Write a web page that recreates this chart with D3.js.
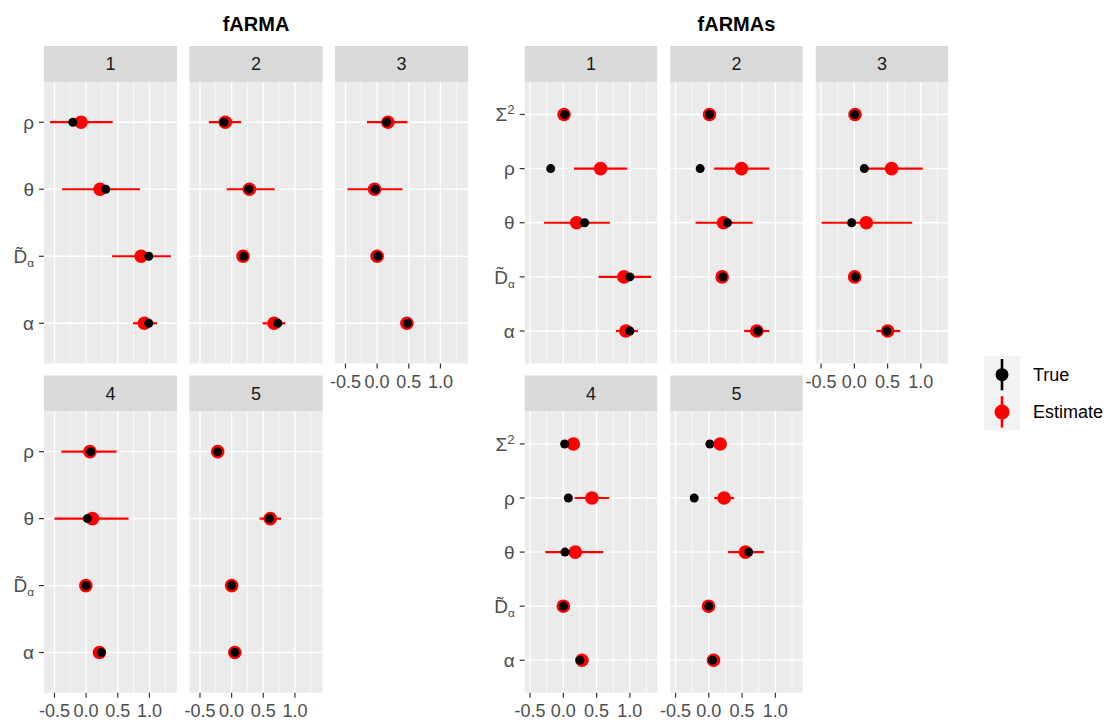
<!DOCTYPE html>
<html>
<head>
<meta charset="utf-8">
<script src="https://cdn.jsdelivr.net/npm/d3@7"></script>
<style>
  html, body { margin: 0; padding: 0; background: #fff; }
  svg { display: block; font-family: "Liberation Sans", Arial, Helvetica, sans-serif; }
</style>
</head>
<body>
<svg id="chart" width="1107" height="722"></svg>
<script>
// Parameters shown on the y axis, top to bottom
const paramsARMA  = ["rho", "theta", "Dalpha", "alpha"];
const paramsARMAs = ["Sigma2", "rho", "theta", "Dalpha", "alpha"];
const panelIds = ["1", "2", "3", "4", "5"];
const seriesNames = ["True", "Estimate"];
const xTickValues = [-0.5, 0.0, 0.5, 1.0];

// fARMA: one row per panel, values in the order of paramsARMA
const trueARMA = [
  [-0.21, 0.31, 0.99, 0.99],
  [-0.12, 0.27, 0.19, 0.73],
  [ 0.15, -0.03, 0.01, 0.48],
  [ 0.07, 0.02, 0.00, 0.24],
  [-0.22, 0.60, 0.00, 0.05]
];
const estARMA = [
  [-0.08, 0.22, 0.87, 0.92],
  [-0.10, 0.28, 0.18, 0.67],
  [ 0.17, -0.04, 0.00, 0.47],
  [ 0.06, 0.10, -0.005, 0.21],
  [-0.22, 0.61, 0.00, 0.05]
];
const lowARMA = [
  [-0.57, -0.38, 0.41, 0.74],
  [-0.36, -0.08, 0.14, 0.49],
  [-0.16, -0.47, -0.03, 0.43],
  [-0.39, -0.50, -0.04, 0.14],
  [-0.27, 0.44, -0.04, 0.01]
];
const highARMA = [
  [0.42, 0.85, 1.34, 1.12],
  [0.15, 0.68, 0.22, 0.85],
  [0.48, 0.40, 0.03, 0.51],
  [0.48, 0.67, 0.03, 0.28],
  [-0.17, 0.78, 0.04, 0.09]
];

// fARMAs: values in the order of paramsARMAs
const trueARMAs = [
  [0.02, -0.19, 0.32, 1.00, 1.00],
  [0.01, -0.13, 0.28, 0.21, 0.74],
  [0.005, 0.15, -0.04, 0.015, 0.49],
  [0.02, 0.075, 0.025, 0.00, 0.25],
  [0.015, -0.22, 0.60, 0.00, 0.055]
];
const estARMAs = [
  [0.01, 0.56, 0.20, 0.91, 0.94],
  [0.01, 0.49, 0.22, 0.20, 0.72],
  [0.01, 0.56, 0.18, 0.005, 0.50],
  [0.15, 0.43, 0.18, 0.00, 0.28],
  [0.17, 0.23, 0.55, -0.005, 0.07]
];
const lowARMAs = [
  [-0.03, 0.16, -0.29, 0.53, 0.79],
  [-0.03, 0.08, -0.20, 0.16, 0.53],
  [-0.03, 0.19, -0.49, -0.03, 0.33],
  [0.11, 0.17, -0.27, -0.04, 0.23],
  [0.13, 0.08, 0.29, -0.04, 0.03]
];
const highARMAs = [
  [0.05, 0.96, 0.70, 1.32, 1.12],
  [0.05, 0.91, 0.66, 0.24, 0.91],
  [0.05, 1.03, 0.87, 0.04, 0.69],
  [0.19, 0.69, 0.60, 0.04, 0.33],
  [0.21, 0.38, 0.83, 0.03, 0.11]
];

// ---- styling / layout ----
const colors = { True: "#000000", Estimate: "#FF0000" };
const panelBg = "#EBEBEB", stripBg = "#D9D9D9";
const fontSize = 18;
const yLabelSize = 19;
const rows = [
  { stripTop: 46,    plotTop: 82,    plotBottom: 363.5 },
  { stripTop: 375.5, plotTop: 411.5, plotBottom: 692.7 }
];
const colStep = 145.5;

const svg = d3.select("#chart");

function drawLabel(sel, key) {
  // parameter symbols as real text
  if (key === "rho") sel.text("ρ");
  else if (key === "theta") sel.text("θ");
  else if (key === "alpha") sel.text("α");
  else if (key === "Dalpha") {
    sel.append("tspan").text("D\u0303");
    sel.append("tspan").attr("font-size", yLabelSize * 0.62).attr("dy", 4).text("α");
  } else if (key === "Sigma2") {
    sel.append("tspan").text("Σ");
    sel.append("tspan").attr("font-size", yLabelSize * 0.7).attr("dy", -7).text("2");
  }
}

function drawBlock(cfg) {
  const { title, x0, panelW, params, tv, ev, lo, hi } = cfg;
  const all = [tv, ev, lo, hi].flat(2);
  const [mn, mx] = d3.extent(all);
  const pad = (mx - mn) * 0.05;
  const x = d3.scaleLinear().domain([mn - pad, mx + pad]).range([0, panelW]);
  const step = xTickValues[1] - xTickValues[0];
  const minor = d3.range(xTickValues[0] - step / 2, mx + pad, step)
    .filter(v => v >= mn - pad && v <= mx + pad);

  const blockW = 2 * colStep + panelW;
  svg.append("text")
    .attr("x", x0 + blockW / 2).attr("y", 31)
    .attr("text-anchor", "middle")
    .attr("font-size", 20).attr("font-weight", "bold").attr("fill", "#000")
    .text(title);

  panelIds.forEach((pid, i) => {
    const r = rows[Math.floor(i / 3)];
    const c = i % 3;
    const px = x0 + c * colStep;
    const y = d3.scalePoint().domain(params).range([r.plotTop, r.plotBottom]).padding(0.6);
    const g = svg.append("g").attr("transform", `translate(${px},0)`);

    // strip
    g.append("rect").attr("x", 0).attr("y", r.stripTop).attr("width", panelW)
      .attr("height", r.plotTop - r.stripTop).attr("fill", stripBg);
    g.append("text").attr("x", panelW / 2).attr("y", (r.stripTop + r.plotTop) / 2)
      .attr("dy", "0.35em").attr("text-anchor", "middle")
      .attr("font-size", fontSize).attr("fill", "#1A1A1A").text(pid);

    // panel background + grid
    g.append("rect").attr("x", 0).attr("y", r.plotTop).attr("width", panelW)
      .attr("height", r.plotBottom - r.plotTop).attr("fill", panelBg);
    g.selectAll(".minor").data(minor).join("line")
      .attr("x1", d => x(d)).attr("x2", d => x(d))
      .attr("y1", r.plotTop).attr("y2", r.plotBottom)
      .attr("stroke", "#fff").attr("stroke-width", 0.7);
    g.selectAll(".majorx").data(xTickValues).join("line")
      .attr("x1", d => x(d)).attr("x2", d => x(d))
      .attr("y1", r.plotTop).attr("y2", r.plotBottom)
      .attr("stroke", "#fff").attr("stroke-width", 1.4);
    g.selectAll(".majory").data(params).join("line")
      .attr("x1", 0).attr("x2", panelW)
      .attr("y1", d => y(d)).attr("y2", d => y(d))
      .attr("stroke", "#fff").attr("stroke-width", 1.4);

    // estimate ranges and points, then true values on top
    const recs = params.map((p, k) => ({ p, t: tv[i][k], e: ev[i][k], l: lo[i][k], h: hi[i][k] }));
    g.selectAll(".rng").data(recs).join("line")
      .attr("x1", d => x(d.l)).attr("x2", d => x(d.h))
      .attr("y1", d => y(d.p)).attr("y2", d => y(d.p))
      .attr("stroke", colors.Estimate).attr("stroke-width", 2.2);
    g.selectAll(".est").data(recs).join("circle")
      .attr("cx", d => x(d.e)).attr("cy", d => y(d.p)).attr("r", 6.8)
      .attr("fill", colors.Estimate);
    g.selectAll(".tru").data(recs).join("circle")
      .attr("cx", d => x(d.t)).attr("cy", d => y(d.p)).attr("r", 4.5)
      .attr("fill", colors.True);

    // y axis on first column
    if (c === 0) {
      const ya = g.append("g");
      ya.selectAll("line").data(params).join("line")
        .attr("x1", -5).attr("x2", 0)
        .attr("y1", d => y(d)).attr("y2", d => y(d))
        .attr("stroke", "#333").attr("stroke-width", 1.2);
      ya.selectAll("text").data(params).join("text")
        .attr("x", -10).attr("y", d => y(d)).attr("dy", "0.35em")
        .attr("text-anchor", "end").attr("font-size", yLabelSize).attr("fill", "#4D4D4D")
        .each(function (d) { drawLabel(d3.select(this), d); });
    }

    // x axis below panels that have nothing beneath them
    if (i >= 2) {
      const xa = g.append("g").attr("transform", `translate(0,${r.plotBottom})`);
      xa.selectAll("line").data(xTickValues).join("line")
        .attr("x1", d => x(d)).attr("x2", d => x(d)).attr("y1", 0).attr("y2", 5)
        .attr("stroke", "#333").attr("stroke-width", 1.2);
      xa.selectAll("text").data(xTickValues).join("text")
        .attr("x", d => x(d)).attr("y", 24).attr("text-anchor", "middle")
        .attr("font-size", fontSize).attr("fill", "#4D4D4D")
        .text(d => d.toFixed(1));
    }
  });
}

drawBlock({ title: "fARMA", x0: 44, panelW: 133, params: paramsARMA,
  tv: trueARMA, ev: estARMA, lo: lowARMA, hi: highARMA });
drawBlock({ title: "fARMAs", x0: 524.7, panelW: 132.5, params: paramsARMAs,
  tv: trueARMAs, ev: estARMAs, lo: lowARMAs, hi: highARMAs });

// legend
const leg = svg.append("g").attr("transform", "translate(984,356)");
const keyH = 37.3, keyW = 36;
seriesNames.forEach((s, k) => {
  const ky = k * keyH;
  leg.append("rect").attr("x", 0).attr("y", ky).attr("width", keyW).attr("height", keyH)
    .attr("fill", "#F2F2F2");
  leg.append("line").attr("x1", keyW / 2).attr("x2", keyW / 2)
    .attr("y1", ky + 3).attr("y2", ky + keyH - 3)
    .attr("stroke", colors[s]).attr("stroke-width", 2.6);
  leg.append("circle").attr("cx", keyW / 2).attr("cy", ky + keyH / 2)
    .attr("r", s === "True" ? 6.5 : 7.5).attr("fill", colors[s]);
  leg.append("text").attr("x", 49).attr("y", ky + keyH / 2).attr("dy", "0.35em")
    .attr("font-size", fontSize).attr("fill", "#000").text(s);
});
</script>
</body>
</html>
